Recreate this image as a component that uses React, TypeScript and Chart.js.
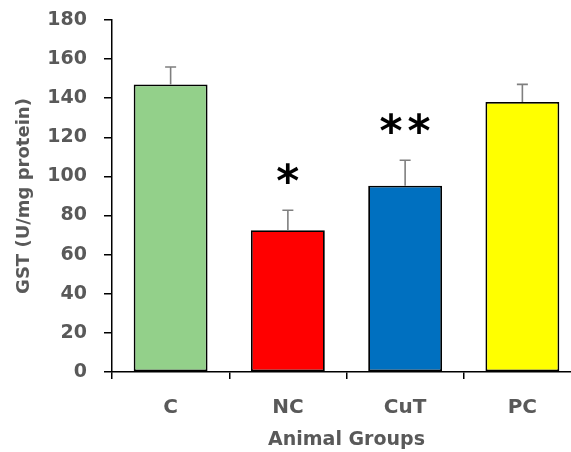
import React, { useEffect, useRef } from "react";
import { Chart, registerables } from "chart.js";

Chart.register(...registerables);

const categories = ["C", "NC", "CuT", "PC"];
const means = [147, 72.5, 95.3, 138.1];
const errors = [9, 10.2, 13, 9];
const significance = ["", "*", "**", ""];
const barColors = ["#93D08A", "#FF0000", "#0070C0", "#FFFF00"];
const yTicks = [0, 20, 40, 60, 80, 100, 120, 140, 160, 180];

const FONT = "'DejaVu Sans', sans-serif";
const TEXT = "#595959";

const errorBarPlugin = {
  id: "errorBars",
  afterDatasetsDraw(chart: any) {
    const { ctx } = chart;
    const meta = chart.getDatasetMeta(0);
    const y = chart.scales.y;
    ctx.save();
    ctx.strokeStyle = "#7F7F7F";
    ctx.lineWidth = 1.6;
    meta.data.forEach((bar: any, i: number) => {
      const x = bar.x;
      const yTop = y.getPixelForValue(means[i] + errors[i]);
      const yBase = y.getPixelForValue(means[i]);
      ctx.beginPath();
      ctx.moveTo(x, yBase);
      ctx.lineTo(x, yTop);
      ctx.moveTo(x - 5.5, yTop);
      ctx.lineTo(x + 5.5, yTop);
      ctx.stroke();
      const sig = significance[i];
      if (sig) {
        ctx.fillStyle = "#000";
        ctx.font = `bold 44px ${FONT}`;
        const m = ctx.measureText("*");
        const cy = yTop - 36.5;
        const baseline = cy + (m.actualBoundingBoxAscent - m.actualBoundingBoxDescent) / 2;
        ctx.textAlign = "center";
        ctx.textBaseline = "alphabetic";
        const n = sig.length;
        for (let k = 0; k < n; k++) {
          const cx = x + (k - (n - 1) / 2) * 28;
          ctx.fillText("*", cx, baseline);
        }
      }
    });
    ctx.restore();
  },
};

export default function App() {
  const ref = useRef<HTMLCanvasElement>(null);
  useEffect(() => {
    if (!ref.current) return;
    const chart = new Chart(ref.current, {
      type: "bar",
      data: {
        labels: categories,
        datasets: [
          {
            data: means,
            backgroundColor: barColors,
            borderColor: "#000",
            borderWidth: 1.8,
            borderSkipped: false,
            categoryPercentage: 1,
            barPercentage: 0.63,
          },
        ],
      },
      options: {
        animation: false,
        responsive: false,
        layout: { padding: { top: 20, right: 19, left: 0, bottom: 0 } },
        plugins: { legend: { display: false }, tooltip: { enabled: false } },
        scales: {
          x: {
            offset: true,
            grid: { offset: true, drawOnChartArea: false, drawTicks: true, tickLength: 7, color: "#000", lineWidth: 1.5 },
            border: { display: true, color: "#000", width: 1.5 },
            ticks: { color: TEXT, font: { family: FONT, size: 20, weight: "bold", lineHeight: 1.2 }, padding: 17 },
            title: { display: true, text: "Animal Groups", color: TEXT, font: { family: FONT, size: 19, weight: "bold", lineHeight: 1.2 }, padding: { top: 0, bottom: 1 } },
            afterFit: (s: any) => { s.height = 80; s.paddingLeft = 0; s.paddingRight = 0; },
          },
          y: {
            min: 0,
            max: 180,
            afterBuildTicks: (s: any) => { s.ticks = yTicks.map((v) => ({ value: v })); },
            grid: { drawOnChartArea: false, drawTicks: true, tickLength: 8, color: "#000", lineWidth: 1.5 },
            border: { display: true, color: "#000", width: 1.5 },
            ticks: { color: TEXT, font: { family: FONT, size: 19, weight: "bold", lineHeight: 1.2 }, padding: 17 },
            title: { display: true, text: "GST (U/mg protein)", color: TEXT, font: { family: FONT, size: 18, weight: "bold", lineHeight: 1.2 }, padding: { top: 14, bottom: 0 } },
            afterFit: (s: any) => { s.width = 112; s.paddingTop = 0; s.paddingBottom = 0; },
          },
        },
      },
      plugins: [errorBarPlugin],
    });
    return () => chart.destroy();
  }, []);
  return (
    <div style={{ position: "fixed", left: 0, top: 0, width: 571, height: 452, overflow: "hidden", background: "#fff" }}>
      <canvas ref={ref} width={600} height={452} style={{ display: "block", width: 600, height: 452 }} />
    </div>
  );
}
